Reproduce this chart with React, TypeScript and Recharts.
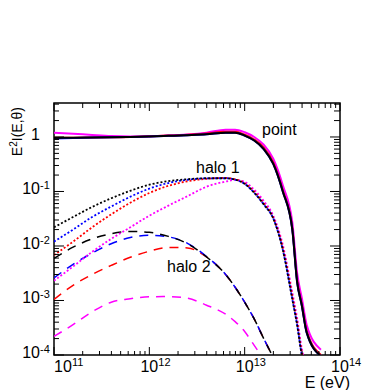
import React from 'react';
import { LineChart, Line, XAxis, YAxis, ReferenceArea } from 'recharts';

// energies (eV) the curves are sampled at
const energy = [
  1e11, 1.585e11, 2.512e11, 3.981e11, 6.31e11, 1e12, 1.585e12, 2.512e12, 3.981e12, 6.31e12, 7.943e12,
  1e13, 1.259e13, 1.585e13, 1.995e13, 2.512e13, 3.162e13, 3.548e13, 3.981e13, 4.467e13, 6.31e13,
];

// "point" (solid)
const pointBlack = [0.96, 0.97, 0.98, 0.99, 1.0, 1.02, 1.05, 1.08, 1.12, 1.2, 1.2, 1.06, 0.86, 0.6, 0.32, 0.1, 0.02, 2.2e-3, 8e-4, 2.6e-4, 9.5e-5];
const pointRed = [0.97, 0.97, 0.98, 0.99, 1.0, 1.03, 1.06, 1.1, 1.16, 1.25, 1.25, 1.1, 0.9, 0.64, 0.34, 0.105, 0.021, 2.4e-3, 8.5e-4, 2.8e-4, 1e-4];
const pointBlue = [0.94, 0.96, 0.98, 0.99, 1.0, 1.02, 1.05, 1.08, 1.12, 1.2, 1.2, 1.06, 0.86, 0.6, 0.32, 0.1, 0.02, 2.2e-3, 8e-4, 2.6e-4, 9.5e-5];
const pointMagenta = [1.2, 1.15, 1.09, 1.04, 1.02, 1.03, 1.06, 1.11, 1.2, 1.36, 1.36, 1.22, 1.0, 0.72, 0.4, 0.13, 0.027, 3.2e-3, 1.1e-3, 3.6e-4, 1.25e-4];

// "halo 1" (dotted)
const halo1Black = [0.022, 0.034, 0.052, 0.075, 0.103, 0.133, 0.155, 0.168, 0.175, 0.175, 0.165, 0.138, 0.095, 0.058, 0.032, 0.0085, 1.05e-3, 3.6e-4, 1e-4, 6e-5, null];
const halo1Blue = [0.012, 0.02, 0.034, 0.053, 0.08, 0.113, 0.143, 0.164, 0.174, 0.175, 0.165, 0.138, 0.095, 0.058, 0.032, 0.0085, 1.05e-3, 3.6e-4, 1e-4, 6e-5, null];
const halo1Red = [0.0068, 0.012, 0.022, 0.038, 0.062, 0.094, 0.127, 0.154, 0.171, 0.177, 0.168, 0.142, 0.099, 0.061, 0.033, 0.0092, 1.2e-3, 4e-4, 1.1e-4, 6e-5, null];
const halo1Magenta = [0.0023, 0.0042, 0.0078, 0.0135, 0.022, 0.036, 0.055, 0.082, 0.122, 0.152, 0.163, 0.15, 0.108, 0.067, 0.036, 0.0105, 1.4e-3, 4.8e-4, 1.3e-4, 6e-5, null];

// "halo 2" (dashed)
const halo2Black = [5.9e-3, 9.5e-3, 0.0135, 0.0168, 0.0185, 0.0178, 0.015, 0.011, 6.3e-3, 3.0e-3, 1.75e-3, 9.3e-4, 4.6e-4, 2e-4, 9e-5, null, null, null, null, null, null];
const halo2Blue = [2.6e-3, 4.6e-3, 7.4e-3, 0.011, 0.0143, 0.0157, 0.0147, 0.0112, 6.4e-3, 3.0e-3, 1.75e-3, 9.3e-4, 4.6e-4, 2e-4, 9e-5, null, null, null, null, null, null];
const halo2Red = [1.05e-3, 1.9e-3, 3.0e-3, 4.4e-3, 6.2e-3, 8e-3, 9.4e-3, 9.2e-3, 6.3e-3, 3.0e-3, 1.75e-3, 9.3e-4, 4.6e-4, 2e-4, 9e-5, null, null, null, null, null, null];
const halo2Magenta = [2.2e-4, 3.6e-4, 6.2e-4, 9.3e-4, 1.08e-3, 1.17e-3, 1.18e-3, 1.1e-3, 8.2e-4, 5.6e-4, 4.1e-4, 2.7e-4, 1.5e-4, 8.5e-5, null, null, null, null, null, null, null];

const xDecades = [11, 12, 13];
const yDecades = [-4, -3, -2, -1];

const X_MIN = 1e11;
const X_MAX = 1e14;
const Y_MIN = 1e-4;
const Y_MAX = 4.2;

const xTicks: number[] = [];
xDecades.forEach((d) => { for (let m = 1; m < 10; m++) xTicks.push(m * Math.pow(10, d)); });
xTicks.push(1e14);
const yTicks: number[] = [];
yDecades.forEach((d) => { for (let m = 1; m < 10; m++) yTicks.push(m * Math.pow(10, d)); });
yTicks.push(1, 2, 3, 4);

const series = [
  { key: 'h2m', data: halo2Magenta, color: '#ff00ff', dash: '9 7', w: 1.5 },
  { key: 'h2r', data: halo2Red, color: '#ff0000', dash: '9 7', w: 1.5 },
  { key: 'h2b', data: halo2Blue, color: '#0000ff', dash: '9 7', w: 1.5 },
  { key: 'h2k', data: halo2Black, color: '#000000', dash: '9 7', w: 1.5 },
  { key: 'h1m', data: halo1Magenta, color: '#ff00ff', dash: '2 2', w: 1.8 },
  { key: 'h1r', data: halo1Red, color: '#ff0000', dash: '2 2', w: 1.8 },
  { key: 'h1b', data: halo1Blue, color: '#0000ff', dash: '2 2', w: 1.8 },
  { key: 'h1k', data: halo1Black, color: '#000000', dash: '2 2', w: 1.8 },
  { key: 'pm', data: pointMagenta, color: '#ff00ff', dash: undefined, w: 2 },
  { key: 'pr', data: pointRed, color: '#ff0000', dash: undefined, w: 2 },
  { key: 'pb', data: pointBlue, color: '#0000ff', dash: undefined, w: 2 },
  { key: 'pk', data: pointBlack, color: '#000000', dash: undefined, w: 2 },
];

const rows = energy.map((E, i) => {
  const r: Record<string, number | null> = { E };
  series.forEach((s) => { r[s.key] = s.data[i]; });
  return r;
});

// plot frame in pixels
const PL = 54;
const PR = 340;
const PT = 103;
const PB = 355;
const FONT = '"Liberation Sans", Arial, Helvetica, sans-serif';

function isDecade(v: number) {
  const l = Math.log10(v);
  return Math.abs(l - Math.round(l)) < 1e-6;
}

function XTick(props: any) {
  const { x, payload } = props;
  const v = payload.value;
  const major = isDecade(v);
  const exp = Math.round(Math.log10(v));
  // keep the first label inside the frame, like the original
  const lx = Math.max(x, PL + 9);
  return (
    <g>
      <line x1={x} x2={x} y1={PB} y2={PB - (major ? 8 : 4)} stroke="#000" strokeWidth={1} />
      <line x1={x} x2={x} y1={PT} y2={PT + (major ? 8 : 5)} stroke="#000" strokeWidth={1} />
      {major && (
        <g fontFamily={FONT} fill="#000">
          <text x={lx} y={372} fontSize={16} textAnchor="middle">10</text>
          <text x={lx + 9} y={366} fontSize={11} textAnchor="start">{exp}</text>
        </g>
      )}
    </g>
  );
}

function YTick(props: any) {
  const { y, payload } = props;
  const v = payload.value;
  const major = isDecade(v);
  const exp = Math.round(Math.log10(v));
  return (
    <g>
      <line x1={PL} x2={PL + (major ? 10 : 5)} y1={y} y2={y} stroke="#000" strokeWidth={1} />
      <line x1={PR} x2={PR - (major ? 10 : 6)} y1={y} y2={y} stroke="#000" strokeWidth={1} />
      {major && (
        <g fontFamily={FONT} fill="#000">
          <text x={40} y={y + 3} fontSize={16} textAnchor="end">{exp === 0 ? '1' : '10'}</text>
          {exp !== 0 && <text x={40} y={y - 2} fontSize={11} textAnchor="start">{exp}</text>}
        </g>
      )}
    </g>
  );
}

export default function App() {
  return (
    <div style={{ position: 'absolute', left: 0, top: 0, width: 390, height: 390, background: '#fff' }}>
      <LineChart width={390} height={390} data={rows} margin={{ top: PT, right: 390 - PR, bottom: 0, left: 0 }}>
        <XAxis
          dataKey="E"
          type="number"
          scale="log"
          domain={[X_MIN, X_MAX]}
          allowDataOverflow
          ticks={xTicks}
          interval={0}
          tick={(p: any) => <XTick {...p} />}
          tickLine={false}
          axisLine={false}
          height={390 - PB}
        />
        <YAxis
          type="number"
          scale="log"
          domain={[Y_MIN, Y_MAX]}
          allowDataOverflow
          ticks={yTicks}
          interval={0}
          tick={(p: any) => <YTick {...p} />}
          tickLine={false}
          axisLine={false}
          width={PL}
        />
        {series.map((s) => (
          <Line
            key={s.key}
            dataKey={s.key}
            type="monotone"
            stroke={s.color}
            strokeWidth={s.w}
            strokeDasharray={s.dash}
            dot={false}
            activeDot={false}
            isAnimationActive={false}
          />
        ))}
        <ReferenceArea x1={X_MIN} x2={X_MAX} y1={Y_MIN} y2={Y_MAX} fill="none" stroke="#000" strokeWidth={1.5} fillOpacity={0} ifOverflow="visible" />
      </LineChart>
      <svg width={390} height={390} style={{ position: 'absolute', left: 0, top: 0, pointerEvents: 'none' }}>
        <g fontFamily={FONT} fill="#000">
          <text x={262} y={135} fontSize={16}>point</text>
          <text x={196} y={173} fontSize={16}>halo 1</text>
          <text x={167} y={272} fontSize={16}>halo 2</text>
          <text x={350} y={388} fontSize={16} textAnchor="end">E (eV)</text>
          <text transform="rotate(-90)" x={-107} y={22} fontSize={14} textAnchor="end">
            E<tspan fontSize={10} dy={-5}>2</tspan>
            <tspan dy={5}>I(E,θ)</tspan>
          </text>
        </g>
      </svg>
    </div>
  );
}
